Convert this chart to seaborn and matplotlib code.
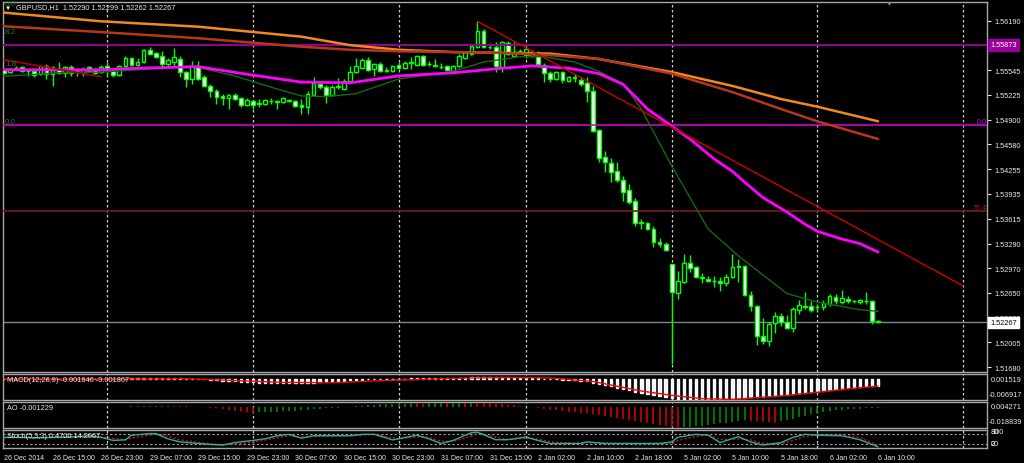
import matplotlib
matplotlib.use("Agg")
import matplotlib.pyplot as plt
import matplotlib.transforms as mtransforms
import numpy as np
import pandas as pd
import seaborn as sns

# GBPUSD H1 candles, bar 0 = 26 Dec 2014 07:00, last bar = 6 Jan 10:00
opens = [
    1.5555, 1.5552, 1.5557, 1.5559, 1.5553, 1.5553, 1.5550, 1.5560, 1.5550, 1.5556,
    1.5551, 1.5559, 1.5553, 1.5551, 1.5559, 1.5556, 1.5552, 1.5560, 1.5553, 1.5548,
    1.5560, 1.5570, 1.5561, 1.5565, 1.5581, 1.5577, 1.5573, 1.5563, 1.5565, 1.5569,
    1.5552, 1.5543, 1.5560, 1.5546, 1.5534, 1.5527, 1.5521, 1.5518, 1.5522, 1.5518,
    1.5509, 1.5514, 1.5512, 1.5511, 1.5514, 1.5514, 1.5513, 1.5516, 1.5514, 1.5509,
    1.5507, 1.5522, 1.5537, 1.5533, 1.5522, 1.5533, 1.5530, 1.5540, 1.5552, 1.5557,
    1.5568, 1.5556, 1.5563, 1.5555, 1.5553, 1.5561, 1.5557, 1.5564, 1.5561, 1.5573,
    1.5563, 1.5560, 1.5559, 1.5560, 1.5553, 1.5560, 1.5570, 1.5576, 1.5585, 1.5605,
    1.5585, 1.5585, 1.5559, 1.5590, 1.5573, 1.5579, 1.5574, 1.5573, 1.5573, 1.5561,
    1.5551, 1.5543, 1.5552, 1.5540, 1.5544, 1.5542, 1.5538, 1.5527, 1.5477, 1.5442,
    1.5434, 1.5423, 1.5412, 1.5399, 1.5384, 1.5357, 1.5356, 1.5348, 1.5331, 1.5329,
    1.5303, 1.5265, 1.5279, 1.5304, 1.5299, 1.5284, 1.5283, 1.5280, 1.5280, 1.5278,
    1.5286, 1.5300, 1.5300, 1.5262, 1.5248, 1.5209, 1.5202, 1.5226, 1.5235, 1.5227,
    1.5219, 1.5243, 1.5248, 1.5248, 1.5247, 1.5247, 1.5251, 1.5260, 1.5253, 1.5257,
    1.5254, 1.5253, 1.5254, 1.5254, 1.5229]
highs = [
    1.5556, 1.5557, 1.5560, 1.5560, 1.5556, 1.5555, 1.5561, 1.5563, 1.5560, 1.5565,
    1.5560, 1.5561, 1.5556, 1.5559, 1.5560, 1.5557, 1.5561, 1.5565, 1.5556, 1.5561,
    1.5573, 1.5572, 1.5570, 1.5582, 1.5585, 1.5578, 1.5579, 1.5570, 1.5583, 1.5573,
    1.5553, 1.5566, 1.5566, 1.5548, 1.5537, 1.5530, 1.5524, 1.5524, 1.5525, 1.5520,
    1.5518, 1.5516, 1.5517, 1.5517, 1.5518, 1.5516, 1.5520, 1.5517, 1.5516, 1.5517,
    1.5527, 1.5546, 1.5539, 1.5535, 1.5535, 1.5544, 1.5543, 1.5560, 1.5570, 1.5570,
    1.5572, 1.5564, 1.5565, 1.5559, 1.5561, 1.5565, 1.5566, 1.5572, 1.5574, 1.5574,
    1.5566, 1.5569, 1.5564, 1.5561, 1.5561, 1.5576, 1.5579, 1.5587, 1.5618, 1.5608,
    1.5590, 1.5591, 1.5592, 1.5592, 1.5591, 1.5582, 1.5586, 1.5581, 1.5579, 1.5564,
    1.5553, 1.5553, 1.5553, 1.5547, 1.5550, 1.5546, 1.5546, 1.5534, 1.5478, 1.5449,
    1.5440, 1.5435, 1.5417, 1.5407, 1.5388, 1.5361, 1.5357, 1.5352, 1.5336, 1.5331,
    1.5303, 1.5293, 1.5316, 1.5314, 1.5300, 1.5291, 1.5287, 1.5287, 1.5286, 1.5290,
    1.5316, 1.5309, 1.5301, 1.5267, 1.5249, 1.5232, 1.5227, 1.5240, 1.5239, 1.5236,
    1.5247, 1.5256, 1.5266, 1.5254, 1.5251, 1.5256, 1.5264, 1.5264, 1.5269, 1.5261,
    1.5256, 1.5257, 1.5266, 1.5256, 1.5230]
lows = [
    1.5550, 1.5551, 1.5555, 1.5552, 1.5547, 1.5546, 1.5548, 1.5543, 1.5534, 1.5550,
    1.5546, 1.5547, 1.5547, 1.5547, 1.5552, 1.5550, 1.5551, 1.5547, 1.5546, 1.5547,
    1.5556, 1.5560, 1.5560, 1.5564, 1.5574, 1.5570, 1.5556, 1.5560, 1.5560, 1.5546,
    1.5533, 1.5537, 1.5542, 1.5533, 1.5520, 1.5511, 1.5509, 1.5504, 1.5516, 1.5507,
    1.5508, 1.5504, 1.5507, 1.5509, 1.5511, 1.5504, 1.5512, 1.5513, 1.5507, 1.5498,
    1.5498, 1.5521, 1.5530, 1.5512, 1.5521, 1.5530, 1.5529, 1.5539, 1.5551, 1.5556,
    1.5553, 1.5547, 1.5552, 1.5552, 1.5552, 1.5556, 1.5556, 1.5556, 1.5560, 1.5560,
    1.5560, 1.5559, 1.5556, 1.5553, 1.5552, 1.5559, 1.5569, 1.5574, 1.5583, 1.5583,
    1.5582, 1.5552, 1.5552, 1.5574, 1.5572, 1.5576, 1.5570, 1.5572, 1.5561, 1.5539,
    1.5539, 1.5542, 1.5538, 1.5539, 1.5539, 1.5534, 1.5513, 1.5474, 1.5435, 1.5422,
    1.5409, 1.5409, 1.5384, 1.5380, 1.5352, 1.5348, 1.5347, 1.5325, 1.5325, 1.5319,
    1.5173, 1.5257, 1.5278, 1.5292, 1.5284, 1.5278, 1.5279, 1.5273, 1.5267, 1.5274,
    1.5284, 1.5279, 1.5261, 1.5241, 1.5197, 1.5199, 1.5196, 1.5213, 1.5222, 1.5218,
    1.5214, 1.5238, 1.5244, 1.5240, 1.5241, 1.5243, 1.5248, 1.5251, 1.5251, 1.5252,
    1.5252, 1.5251, 1.5251, 1.5225, 1.5226]
closes = [
    1.5551, 1.5556, 1.5556, 1.5553, 1.5554, 1.5548, 1.5560, 1.5550, 1.5559, 1.5551,
    1.5559, 1.5551, 1.5554, 1.5556, 1.5553, 1.5551, 1.5559, 1.5556, 1.5548, 1.5560,
    1.5570, 1.5561, 1.5565, 1.5581, 1.5576, 1.5572, 1.5563, 1.5568, 1.5572, 1.5552,
    1.5543, 1.5560, 1.5543, 1.5534, 1.5527, 1.5520, 1.5518, 1.5522, 1.5517, 1.5509,
    1.5516, 1.5509, 1.5511, 1.5516, 1.5515, 1.5513, 1.5518, 1.5514, 1.5508, 1.5507,
    1.5524, 1.5538, 1.5533, 1.5522, 1.5533, 1.5534, 1.5540, 1.5552, 1.5560, 1.5568,
    1.5555, 1.5563, 1.5553, 1.5554, 1.5560, 1.5557, 1.5564, 1.5565, 1.5573, 1.5561,
    1.5562, 1.5561, 1.5558, 1.5555, 1.5560, 1.5573, 1.5578, 1.5586, 1.5605, 1.5585,
    1.5584, 1.5560, 1.5591, 1.5576, 1.5578, 1.5580, 1.5582, 1.5578, 1.5563, 1.5551,
    1.5543, 1.5552, 1.5542, 1.5546, 1.5545, 1.5537, 1.5527, 1.5475, 1.5440, 1.5435,
    1.5422, 1.5412, 1.5396, 1.5383, 1.5356, 1.5356, 1.5348, 1.5331, 1.5329, 1.5321,
    1.5266, 1.5280, 1.5304, 1.5297, 1.5286, 1.5285, 1.5280, 1.5281, 1.5278, 1.5286,
    1.5299, 1.5299, 1.5262, 1.5248, 1.5209, 1.5202, 1.5225, 1.5235, 1.5227, 1.5219,
    1.5244, 1.5249, 1.5247, 1.5243, 1.5246, 1.5252, 1.5261, 1.5254, 1.5258, 1.5254,
    1.5255, 1.5256, 1.5255, 1.5229, 1.5227]

# moving averages (bar index, price)
slow_bars = [-1, 16, 32, 49, 57, 65, 74, 82, 90, 98, 110, 120, 128, 134, 144]
ma_orange = [1.5630, 1.5618, 1.5611, 1.5598, 1.5587, 1.5581, 1.5578, 1.5577, 1.5576,
             1.5569, 1.5552, 1.5534, 1.5517, 1.5507, 1.5488]
ma_brown = [1.5612, 1.5604, 1.5596, 1.5585, 1.5581, 1.5579, 1.5578, 1.5577, 1.5574,
            1.5569, 1.5550, 1.5526, 1.5504, 1.5488, 1.5465]
mag_bars = [-1, 16, 22, 32, 41, 49, 57, 65, 74, 82, 87, 93, 98, 102, 106, 108, 113,
            117, 120, 122, 125, 129, 132, 134, 138, 141, 144]
ma_magenta = [1.5555, 1.5555, 1.5557, 1.5559, 1.5548, 1.5539, 1.5538, 1.5547, 1.5551,
              1.5557, 1.5560, 1.5557, 1.5550, 1.5536, 1.5504, 1.5493, 1.5465, 1.5439,
              1.5423, 1.5409, 1.5389, 1.5370, 1.5354, 1.5345, 1.5335, 1.5329, 1.5318]
fast_bars = [-1, 3, 9, 16, 24, 31, 38, 45, 49, 53, 58, 65, 74, 79, 85, 89, 94, 98,
             102, 105, 110, 116, 121, 129, 134, 141, 144]
ma_green = [1.5546, 1.5548, 1.5551, 1.5552, 1.5556, 1.5560, 1.5547, 1.5530, 1.5521,
            1.5520, 1.5524, 1.5543, 1.5553, 1.5565, 1.5572, 1.5572, 1.5565, 1.5553,
            1.5537, 1.5504, 1.5430, 1.5348, 1.5313, 1.5264, 1.5253, 1.5243, 1.5241]

# objects on the chart
trend_bars = [78, 158]
trend_prices = [1.5618, 1.5274]
old_trend_bars = [0, 16]
old_trend_prices = [1.5568, 1.5546]
level_top = 1.55873
level_zero = 1.5483
level_764 = 1.5371
bid = 1.52267

# MACD(12,26,9), x 1e-3
macd_main = [
    0.0, 0.0, 0.0, 0.0, 0.0, 0.0, 0.0, 0.0, 0.0, 0.0, 0.0, 0.0, 0.0, 0.0, 0.0, 0.0,
    0.0, 0.0, 0.0, 0.0, 0.05, 0.1,
    0.15, 0.2, 0.25, 0.25, 0.2, 0.2, 0.15, 0.1, 0.05, 0.0, -0.1, -0.2,
    -0.3, -0.45, -0.6, -0.75, -0.9, -1.0, -1.1,
    -1.2, -1.3, -1.35, -1.4, -1.45, -1.5, -1.5, -1.55, -1.5, -1.4, -1.25, -1.1,
    -1.0, -0.9, -0.8, -0.7, -0.55, -0.45, -0.35, -0.25, -0.2, -0.15,
    -0.1, -0.05, 0.0, 0.05, 0.1, 0.1, 0.15, 0.15, 0.2, 0.2,
    0.2, 0.25, 0.3, 0.35, 0.45, 0.5, 0.5, 0.5, 0.45, 0.45,
    0.4, 0.35, 0.3, 0.25, 0.2, 0.1, 0.0, -0.1, -0.2,
    -0.3, -0.4, -0.5, -0.6, -0.8, -1.3, -1.7, -2.1, -2.5, -2.9,
    -3.3, -3.7, -4.2, -4.6, -5.0, -5.4, -5.7, -6.0, -6.4, -6.6,
    -6.8, -6.9, -6.9, -6.8, -6.7, -6.6, -6.5, -6.4, -6.3, -6.2,
    -6.2, -6.1, -6.0, -5.9, -5.7, -5.5, -5.35, -5.2, -5.0, -4.8,
    -4.5, -4.3, -4.1, -3.9, -3.7, -3.5, -3.3, -3.1, -2.9, -2.7,
    -2.5, -2.35, -2.25]
sig_bars = [0, 22, 30, 38, 46, 54, 64, 76, 84, 90, 97, 105, 110, 115, 120, 128, 134, 139, 144]
macd_signal = [-0.1, -0.1, 0.0, -0.6, -1.2, -1.3, -0.5, 0.2, 0.35, 0.25, -0.9, -4.0,
               -5.4, -6.5, -6.7, -5.6, -4.4, -3.3, -2.4]

# Awesome Oscillator, x 1e-3
ao = [
    -0.2, -0.2, -0.3, -0.3, -0.2, -0.2, -0.1, -0.1, -0.2,
    -0.4, -0.5, -0.6, -0.6, -0.5,
    -0.4, -0.3, -0.2, -0.1, 0.0, 0.1, 0.2, 0.3,
    0.4, 0.5, 0.6, 0.7, 0.8, 0.8, 0.7, 0.6,
    0.4, 0.2, 0.0, -0.3, -0.7, -1.2, -1.8,
    -2.5, -3.3, -4.1, -4.8, -5.1,
    -5.0, -4.8, -4.6, -4.3, -4.0, -3.7, -3.4, -3.1, -2.7, -2.3, -1.9, -1.5, -1.1, -0.7, -0.3,
    0.2, 0.6, 1.0, 1.4, 1.8, 2.1, 2.4, 2.6, 2.8, 2.9, 3.0, 3.0, 2.9, 3.0,
    3.1, 3.2, 3.1, 3.3, 3.4, 3.3, 3.5, 3.4, 3.2, 3.0, 2.7, 2.3, 1.8,
    1.2, 0.6, 0.0, -0.6, -1.2, -1.8, -2.4,
    -3.0, -3.6, -4.2, -4.8, -5.3, -5.8,
    -6.6, -7.5, -8.3, -9.0, -9.8, -10.7, -11.6, -12.6, -13.6, -14.6, -15.5, -16.3, -17.1, -17.8, -18.8,
    -18.0, -17.6, -17.2, -16.7, -16.1, -15.4, -14.7, -14.0, -13.3, -12.6, -12.1,
    -12.4, -12.8, -13.3, -13.7, -14.0,
    -13.0, -11.8, -10.5, -9.2, -7.8, -6.5, -5.2, -4.2, -3.4, -2.8, -2.4,
    -2.1, -1.9, -1.7, -1.5, -1.3, -1.2]

# Stochastic(5,3,3)
stoch_bars = [0, 3, 5, 8, 10, 14, 16, 18, 20, 21, 24, 25, 27, 29, 32, 34, 36, 38, 41, 43,
              45, 47, 49, 51, 53, 57, 59, 61, 64, 65, 68, 70, 72, 74, 77, 78, 81, 83, 86, 88,
              90, 95, 96, 99, 104, 108, 110, 111, 114, 116, 118, 121, 123, 125, 128, 130,
              132, 134, 138, 141, 144]
stoch_main = [59, 59, 56, 59, 59, 67, 59, 42, 45, 71, 80, 80, 51, 34, 25, 20, 16, 30, 42, 51,
              68, 76, 54, 68, 68, 68, 76, 76, 45, 51, 71, 51, 25, 42, 85, 88, 46, 46, 61, 42,
              25, 25, 34, 25, 25, 25, 34, 59, 76, 71, 30, 63, 34, 16, 30, 59, 76, 71, 68, 46, 6]
stoch_signal = [57, 58, 57, 58, 59, 63, 62, 52, 47, 55, 72, 79, 66, 45, 32, 24, 19, 22, 33, 44,
                57, 69, 63, 63, 67, 68, 72, 76, 57, 50, 62, 58, 38, 36, 66, 82, 60, 48, 54, 50,
                33, 27, 30, 28, 25, 25, 28, 42, 64, 74, 48, 50, 45, 26, 24, 42, 64, 74, 70, 58, 14]

time_labels = ["26 Dec 2014", "26 Dec 15:00", "26 Dec 23:00", "29 Dec 07:00", "29 Dec 15:00",
               "29 Dec 23:00", "30 Dec 07:00", "30 Dec 15:00", "30 Dec 23:00", "31 Dec 07:00",
               "31 Dec 15:00", "2 Jan 02:00", "2 Jan 10:00", "2 Jan 18:00", "5 Jan 02:00",
               "5 Jan 10:00", "5 Jan 18:00", "6 Jan 02:00", "6 Jan 10:00"]
day_bars = [17, 41, 65, 86, 110, 134, 158]
price_ticks = [1.56190, 1.55545, 1.55225, 1.54900, 1.54580, 1.54255, 1.53935, 1.53615,
               1.53290, 1.52970, 1.52650, 1.52325, 1.52005, 1.51680]

# ---------------------------------------------------------------- styling
LIME = '#00ff00'
FRAME = '#a8a8a8'
TXT = '#e8e8e8'
FS = 5.3

sns.set_style("dark", {"axes.facecolor": "black", "figure.facecolor": "black",
                       "axes.edgecolor": FRAME})
plt.rcParams['font.family'] = ['Liberation Sans', 'DejaVu Sans']

W, H = 1024, 464
PX, X0 = 6.07, 4     # pixels per bar, pixel of bar 0
L, R = 3, 987

fig = plt.figure(figsize=(W / 100, H / 100), dpi=100)
fig.patch.set_facecolor('black')


def panel(top, bottom):
    a = fig.add_axes([L / W, 1 - bottom / H, (R - L) / W, (bottom - top) / H])
    a.set_facecolor('black')
    a.set_xlim((L - X0) / PX, (R - X0) / PX)
    for s in a.spines.values():
        s.set_color(FRAME)
        s.set_linewidth(1.0)
    a.set_xticks([])
    a.set_yticks([])
    for b in day_bars:
        a.axvline(b, color='#cfcfcf', lw=0.9, ls=(0, (2, 2)), zorder=1)
    return a


def fig_text(x, y, s, **kw):
    kw.setdefault('color', TXT)
    kw.setdefault('fontsize', FS)
    kw.setdefault('va', 'center')
    fig.text(x / W, 1 - y / H, s, **kw)


# ---------------------------------------------------------------- price panel
ax = panel(3, 373)
ax.set_ylim(1.51621, 1.56431)

df = pd.DataFrame({'open': opens, 'high': highs, 'low': lows, 'close': closes})
df['bar'] = np.arange(len(df))
up = df['close'] >= df['open']
ax.vlines(df['bar'], df['low'], df['high'], color=LIME, lw=1, zorder=4)
ax.bar(df['bar'], (df['close'] - df['open']).abs(),
       bottom=df[['open', 'close']].min(axis=1), width=0.62,
       color=np.where(up, 'black', 'white'), edgecolor=LIME, linewidth=1, zorder=5)

ax.axhline(bid, color='#778899', lw=1, zorder=2)
ax.axhline(level_top, color='#990099', lw=1.4, zorder=6)
ax.axhline(level_zero, color='#d000d0', lw=1.2, zorder=6)
ax.axhline(level_764, color='#7a1a1a', lw=1.2, zorder=6)

sns.lineplot(x=slow_bars, y=ma_orange, ax=ax, color='#f08a1c', lw=1.8, zorder=6)
sns.lineplot(x=slow_bars, y=ma_brown, ax=ax, color='#b8361e', lw=1.8, zorder=6)
sns.lineplot(x=mag_bars, y=ma_magenta, ax=ax, color='#ff00ff', lw=2.0, zorder=7)
sns.lineplot(x=fast_bars, y=ma_green, ax=ax, color='#0f6b0f', lw=1.0, zorder=6)
sns.lineplot(x=trend_bars, y=trend_prices, ax=ax, color='#d00000', lw=1.0, zorder=7)
sns.lineplot(x=old_trend_bars, y=old_trend_prices, ax=ax, color='#b00000', lw=1.2, zorder=7)
ax.set_xlim((L - X0) / PX, (R - X0) / PX)
ax.set_xlabel('')
ax.set_ylabel('')

ax.yaxis.tick_right()
ax.set_yticks(price_ticks)
ax.set_yticklabels([f"{p:.5f}" for p in price_ticks])
ax.tick_params(axis='y', colors=TXT, labelsize=FS, length=3, width=0.8, pad=2.5)

tr = mtransforms.blended_transform_factory(ax.transAxes, ax.transData)
ax.text(1.003, level_top, "1.55873", transform=tr, color='white', fontsize=FS,
        va='center', ha='left', clip_on=False, zorder=10,
        bbox=dict(boxstyle='square,pad=0.3', fc='#990099', ec='#990099'))
ax.text(1.003, bid, "1.52267", transform=tr, color='black', fontsize=FS,
        va='center', ha='left', clip_on=False, zorder=10,
        bbox=dict(boxstyle='square,pad=0.3', fc='white', ec='white'))
ax.text(0.9995, level_zero, "0.0", transform=tr, color='#d000d0', fontsize=5.2,
        va='bottom', ha='right', clip_on=False, zorder=8)
ax.text(0.9995, level_764, "76.4", transform=tr, color='#9a2a2a', fontsize=5.2,
        va='bottom', ha='right', clip_on=False, zorder=8)

# fib labels cut by the left edge
for y, s in [(5, "0.0"), (32, "8.2"), (65, "1.8"), (122, "0.0")]:
    fig_text(5, y, s, color='#1f7a1f', fontsize=5.8)

fig_text(8, 8, "\u25bc", color='white', fontsize=4.5, ha='center')
fig_text(16, 8, "GBPUSD,H1  1.52290 1.52299 1.52262 1.52267")
fig_text(889, 4, "\u25bc", color='#8a8a8a', fontsize=5, ha='center')

# ---------------------------------------------------------------- MACD
ax_m = panel(375, 401)
ax_m.set_ylim(-6.917, 1.519)
ax_m.bar(df['bar'], macd_main, width=0.38, color='#f0f0f0', zorder=3)
sns.lineplot(x=sig_bars, y=macd_signal, ax=ax_m, color='#ff0000', lw=1.0, zorder=4)
ax_m.set_xlim((L - X0) / PX, (R - X0) / PX)
ax_m.set_xlabel('')
ax_m.set_ylabel('')
fig_text(7, 381, "MACD(12,26,9) -0.001646 -0.001867")
fig_text(991, 381, "0.001519")
fig_text(989, 396, "-0.006917")

# ---------------------------------------------------------------- AO
ax_a = panel(403, 429)
ax_a.set_ylim(-18.839, 4.271)
ao_arr = np.array(ao)
rising = np.r_[True, ao_arr[1:] > ao_arr[:-1]]
ax_a.vlines(df['bar'], 0, ao_arr, colors=np.where(rising, '#008a00', '#d00000'),
            lw=1.2, zorder=3)
fig_text(7, 409, "AO -0.001229")
fig_text(991, 408, "0.004271")
fig_text(989, 423, "-0.018839")

# ---------------------------------------------------------------- Stochastic
ax_s = panel(431, 449)
ax_s.set_ylim(0, 100)
for lv in (20, 80):
    ax_s.axhline(lv, color='#a0a0a0', lw=0.8, ls=(0, (2, 2)), zorder=2)
sns.lineplot(x=stoch_bars, y=stoch_main, ax=ax_s, color='#20b2aa', lw=1.0, zorder=4)
sns.lineplot(x=stoch_bars, y=stoch_signal, ax=ax_s, color='#ff0000', lw=1.0,
             ls=(0, (1.5, 1.5)), zorder=3)
ax_s.set_xlim((L - X0) / PX, (R - X0) / PX)
ax_s.set_ylabel('')
fig_text(7, 437, "Stoch(5,3,3) 6.4706 14.2067")
for y, s in [(433, "100"), (433, "80"), (445, "20"), (445, "0")]:
    fig_text(991, y, s)

lbl_bars = list(range(0, 8 * len(time_labels), 8))
ax_s.set_xticks(lbl_bars)
ax_s.set_xticklabels(time_labels, ha='left')
ax_s.tick_params(axis='x', colors=TXT, labelsize=5.0, length=2.5, width=0.8, pad=1.5)
ax_s.set_xlabel('')

fig.savefig("out.png", dpi=100, facecolor='black')
